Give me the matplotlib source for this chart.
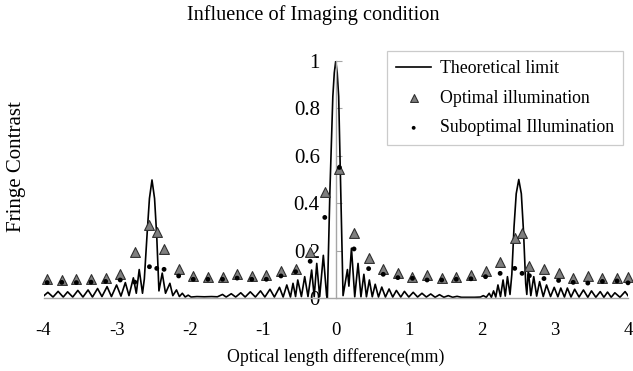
import matplotlib
matplotlib.use("Agg")
import matplotlib.pyplot as plt

plt.rcParams['font.family'] = ['Liberation Serif', 'DejaVu Serif']

# theoretical limit, turning points
theory_x = [-4.00, -3.94, -3.87, -3.80, -3.73, -3.67, -3.60, -3.53, -3.46, -3.39,
            -3.33, -3.26, -3.20, -3.13, -3.07, -3.00, -2.94, -2.88, -2.83, -2.77,
            -2.73, -2.69, -2.645, -2.62, -2.58, -2.55, -2.515, -2.48, -2.45, -2.42,
            -2.375, -2.33, -2.27, -2.23, -2.18, -2.14, -2.10, -2.06, -2.02, -1.98,
            -1.90, -1.80, -1.70, -1.62, -1.55, -1.50, -1.43, -1.37, -1.30, -1.24,
            -1.17, -1.10, -1.03, -0.97, -0.90, -0.84, -0.77, -0.72, -0.67, -0.62,
            -0.585, -0.55, -0.52, -0.47, -0.425, -0.38, -0.33, -0.295, -0.26, -0.22,
            -0.17, -0.125, -0.115, -0.08, -0.04, -0.02, 0.0, 0.02, 0.04, 0.065,
            0.10, 0.16, 0.18, 0.215, 0.26, 0.305, 0.345, 0.385, 0.42, 0.46,
            0.50, 0.54, 0.585, 0.63, 0.68, 0.73, 0.78, 0.83, 0.89, 0.94,
            1.00, 1.06, 1.12, 1.18, 1.24, 1.30, 1.36, 1.42, 1.48, 1.54,
            1.60, 1.66, 1.72, 1.80, 1.90, 1.98, 2.02, 2.06, 2.10, 2.13,
            2.16, 2.19, 2.22, 2.255, 2.29, 2.32, 2.35, 2.385, 2.41, 2.44,
            2.47, 2.505, 2.54, 2.57, 2.60, 2.615, 2.635, 2.67, 2.71, 2.75,
            2.79, 2.84, 2.885, 2.94, 2.99, 3.04, 3.08, 3.13, 3.17, 3.22,
            3.27, 3.33, 3.39, 3.45, 3.50, 3.56, 3.62, 3.67, 3.72, 3.77,
            3.82, 3.89, 3.96, 4.00]
theory_y = [0.008, 0.024, 0.004, 0.028, 0.004, 0.026, 0.004, 0.032, 0.004, 0.034,
            0.004, 0.040, 0.006, 0.048, 0.006, 0.055, 0.008, 0.065, 0.010, 0.085,
            0.020, 0.120, 0.020, 0.080, 0.280, 0.420, 0.498, 0.420, 0.260, 0.030,
            0.105, 0.020, 0.062, 0.010, 0.034, 0.006, 0.020, 0.004, 0.012, 0.004,
            0.006, 0.005, 0.006, 0.005, 0.015, 0.004, 0.018, 0.004, 0.022, 0.004,
            0.026, 0.004, 0.030, 0.004, 0.037, 0.004, 0.045, 0.004, 0.055, 0.004,
            0.062, 0.006, 0.076, 0.006, 0.090, 0.006, 0.118, 0.006, 0.146, 0.006,
            0.180, 0.010, 0.000, 0.450, 0.850, 0.950, 1.000, 0.950, 0.850, 0.500,
            0.010, 0.120, 0.050, 0.210, 0.005, 0.146, 0.005, 0.100, 0.005, 0.076,
            0.005, 0.058, 0.004, 0.046, 0.004, 0.038, 0.004, 0.032, 0.004, 0.028,
            0.004, 0.024, 0.004, 0.020, 0.004, 0.017, 0.003, 0.014, 0.003, 0.010,
            0.003, 0.007, 0.003, 0.003, 0.003, 0.004, 0.010, 0.003, 0.020, 0.003,
            0.030, 0.004, 0.055, 0.006, 0.076, 0.008, 0.090, 0.015, 0.100, 0.300,
            0.440, 0.500, 0.440, 0.280, 0.060, 0.015, 0.118, 0.010, 0.090, 0.008,
            0.069, 0.006, 0.055, 0.006, 0.045, 0.005, 0.042, 0.004, 0.042, 0.004,
            0.037, 0.004, 0.034, 0.003, 0.030, 0.003, 0.027, 0.003, 0.025, 0.003,
            0.022, 0.003, 0.027, 0.010]

# measured points
meas_x = [-3.95, -3.75, -3.55, -3.35, -3.15, -2.95, -2.75, -2.55, -2.45, -2.35,
          -2.15, -1.95, -1.75, -1.55, -1.35, -1.15, -0.95, -0.75, -0.55, -0.35,
          -0.15, 0.05, 0.25, 0.45, 0.65, 0.85, 1.05, 1.25, 1.45, 1.65,
          1.85, 2.05, 2.25, 2.45, 2.55, 2.65, 2.85, 3.05, 3.25, 3.45,
          3.65, 3.85, 4.00]
optimal_y = [0.080, 0.078, 0.080, 0.082, 0.085, 0.100, 0.195, 0.310, 0.280, 0.207,
             0.121, 0.093, 0.087, 0.087, 0.100, 0.094, 0.097, 0.114, 0.124, 0.193,
             0.449, 0.544, 0.275, 0.167, 0.122, 0.107, 0.090, 0.097, 0.086, 0.090,
             0.098, 0.115, 0.153, 0.253, 0.275, 0.135, 0.121, 0.105, 0.083, 0.091,
             0.085, 0.085, 0.090]
suboptimal_y = [0.065, 0.066, 0.065, 0.067, 0.070, 0.076, 0.067, 0.132, 0.125, 0.121,
                0.093, 0.079, 0.079, 0.079, 0.084, 0.079, 0.079, 0.093, 0.111, 0.155,
                0.340, 0.551, 0.207, 0.124, 0.100, 0.086, 0.083, 0.076, 0.076, 0.079,
                0.081, 0.090, 0.104, 0.125, 0.104, 0.094, 0.082, 0.074, 0.066, 0.063,
                0.070, 0.072, 0.064]

x_ticks = [-4, -3, -2, -1, 0, 1, 2, 3, 4]
y_ticks = [0, 0.2, 0.4, 0.6, 0.8, 1]
y_labels = ['0', '0.2', '0.4', '0.6', '0.8', '1']

W, H = 633, 371
fig = plt.figure(figsize=(W / 100, H / 100), dpi=100)
ax = fig.add_axes([43.5 / W, 73 / H, 584.5 / W, 237 / H])

axis_grey = '#a6a6a6'
ax.plot(theory_x, theory_y, color='black', lw=1.2, label='Theoretical limit', zorder=2)
ax.scatter(meas_x, optimal_y, marker='^', s=50, c='#7f7f7f', edgecolors='#303030',
           linewidths=0.8, label='Optimal illumination', zorder=3, clip_on=False)
ax.scatter(meas_x, suboptimal_y, marker='o', s=12, c='black', edgecolors='none',
           label='Suboptimal Illumination', zorder=4, clip_on=False)

ax.set_xlim(-4, 4)
ax.set_ylim(0, 1)
ax.spines['left'].set_position(('data', 0))
ax.spines['right'].set_visible(False)
ax.spines['top'].set_visible(False)
for s in ('left', 'bottom'):
    ax.spines[s].set_color(axis_grey)
    ax.spines[s].set_linewidth(1.0)

ax.set_xticks(x_ticks)
ax.set_xticklabels([str(t) for t in x_ticks])
ax.set_yticks(y_ticks)
ax.set_yticklabels(y_labels)
ax.tick_params(axis='x', length=0, pad=17, labelsize=13.5)
ax.tick_params(axis='y', direction='in', length=4, color=axis_grey, pad=11.5, labelsize=15)

ax.set_xlabel('Optical length difference(mm)', fontsize=12.8, labelpad=7)
fig.text(17 / W, 1 - 167 / H, 'Fringe Contrast', rotation=90, fontsize=15,
         ha='center', va='center')
fig.text(313 / W, 1 - 15 / H, 'Influence of Imaging condition', fontsize=14.6,
         ha='center', va='center')

leg = ax.legend(loc='upper left', bbox_to_anchor=(387 / W, 1 - 51 / H),
                bbox_transform=fig.transFigure, fontsize=12.8, frameon=True,
                fancybox=False, borderpad=0.5, labelspacing=0.72, handlelength=2.0,
                handletextpad=0.5, borderaxespad=0, markerscale=0.8)
leg.get_frame().set_edgecolor('#bfbfbf')
leg.get_frame().set_linewidth(0.9)

fig.savefig('out.png', dpi=100)
